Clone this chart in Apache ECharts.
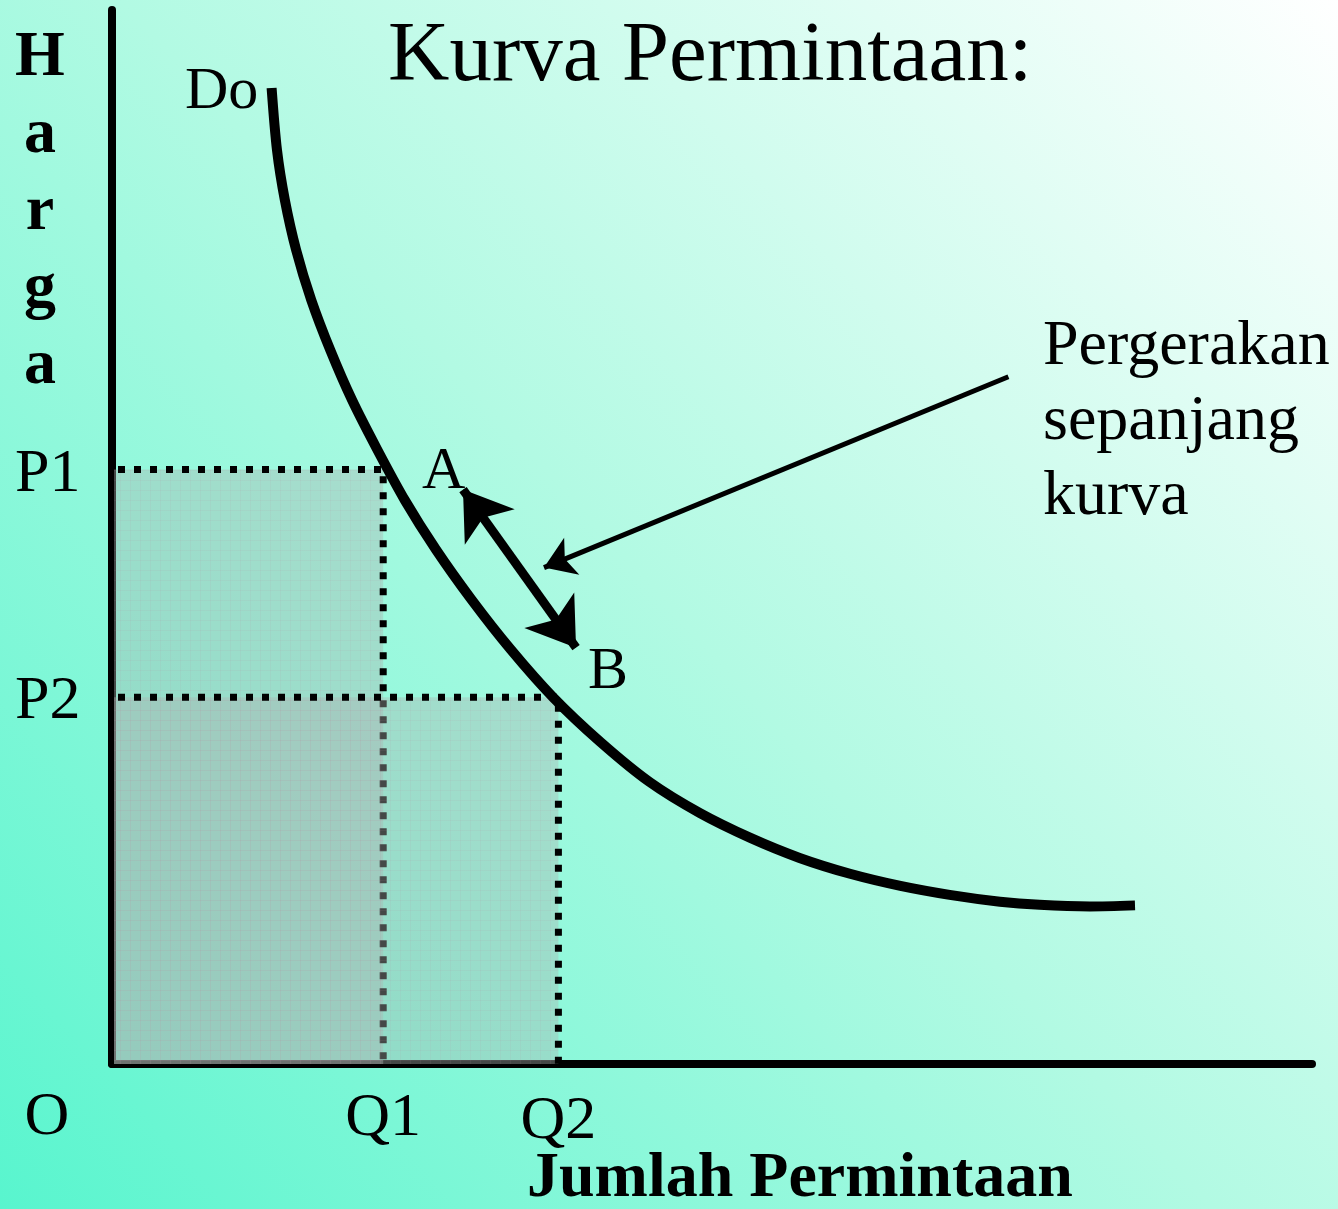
<!DOCTYPE html>
<html>
<head>
<meta charset="utf-8">
<script src="https://cdn.jsdelivr.net/npm/echarts@6/dist/echarts.min.js"></script>
<style>
html, body { margin: 0; padding: 0; }
#main { width: 1338px; height: 1209px; }
</style>
</head>
<body>
<div id="main"></div>
<script>
// demand curve Do (quantity, price)
var curveQty   = [13.3, 13.75, 14.4, 15.35, 16.6, 18.2, 20.0, 22.1, 24.4, 27.0, 30.0, 33.25, 36.75, 40.7, 44.8, 49.0, 53.2, 57.3, 61.5, 65.7, 69.8, 74.0, 77.3, 81.5, 85.25];
var curvePrice = [92.6, 86.7, 82.0, 77.2, 72.5, 67.7, 63.0, 58.3, 53.5, 48.8, 44.0, 39.3, 34.8, 30.55, 26.75, 23.8, 21.45, 19.55, 18.05, 16.9, 16.05, 15.4, 15.1, 14.95, 15.05];

// the two points on the curve
var qtyLevels   = [22.6, 37.2];   // Q1, Q2
var priceLevels = [56.4, 34.8];   // P1, P2
var qtyNames    = ['Q1', 'Q2'];
var priceNames  = ['P1', 'P2'];

// arrows: movement A <-> B and the pointer from the note
var moveArrow = [[29.25, 54.5], [38.67, 39.5]];
var noteArrow = [[74.7, 65.2], [36.0, 47.1]];

var serif = '"Liberation Serif", "Times New Roman", serif';

let main = document.getElementById('main');
let myChart = echarts.init(main);

// grey fill with a fine grid on it, like the shading in the slide
function makePattern() {
	var c = document.createElement('canvas');
	c.width = 10;
	c.height = 10;
	var ctx = c.getContext('2d');
	ctx.fillStyle = 'rgba(172,180,178,0.4)';
	ctx.fillRect(0, 0, 10, 10);
	ctx.fillStyle = 'rgba(190,150,170,0.1)';
	ctx.fillRect(0, 0, 10, 1);
	ctx.fillRect(0, 0, 1, 10);
	return { image: c, repeat: 'repeat' };
}
var shade = makePattern();

var curveData = curveQty.map(function (q, i) { return [q, curvePrice[i]]; });
var boxData = qtyLevels.map(function (q, i) { return [q, priceLevels[i]]; });

function renderBox(params, api) {
	var q = api.value(0), p = api.value(1);
	var o = api.coord([0, 0]);
	var c = api.coord([q, p]);
	return {
		type: 'group',
		children: [{
			type: 'rect',
			shape: { x: o[0] + 2, y: c[1], width: c[0] - o[0] - 2, height: o[1] - c[1] },
			style: { fill: shade }
		}, {
			type: 'polyline',
			shape: { points: [[o[0] + 6, c[1]], [c[0], c[1]], [c[0], o[1]]] },
			style: { stroke: '#000', lineWidth: 7, lineDash: [7, 9], fill: null }
		}]
	};
}

var option = {
	backgroundColor: new echarts.graphic.LinearGradient(0, 1, 1, 0, [
		{ offset: 0, color: '#58f5ce' },
		{ offset: 0.5, color: '#b2fae3' },
		{ offset: 1, color: '#ffffff' }
	]),
	animation: false,
	grid: { left: 112, right: 26, top: 10, bottom: 145 },
	xAxis: {
		type: 'value', min: 0, max: 100,
		axisLine: { lineStyle: { color: '#000', width: 8 } },
		axisTick: { show: false },
		axisLabel: { show: false },
		splitLine: { show: false }
	},
	yAxis: {
		type: 'value', min: 0, max: 100,
		axisLine: { show: true, lineStyle: { color: '#000', width: 8 } },
		axisTick: { show: false },
		axisLabel: { show: false },
		splitLine: { show: false }
	},
	series: [{
		name: 'box A',
		type: 'custom',
		z: 1,
		silent: true,
		renderItem: renderBox,
		data: [boxData[0]]
	}, {
		name: 'box B',
		type: 'custom',
		z: 2,
		silent: true,
		renderItem: renderBox,
		data: [boxData[1]]
	}, {
		name: 'Do',
		type: 'line',
		z: 5,
		smooth: 0.3,
		symbol: 'none',
		lineStyle: { color: '#000', width: 10, cap: 'butt' },
		data: curveData
	}, {
		name: 'arrows',
		type: 'lines',
		coordinateSystem: 'cartesian2d',
		z: 6,
		silent: true,
		data: [{
			coords: moveArrow,
			symbol: ['arrow', 'arrow'],
			symbolSize: 46,
			lineStyle: { width: 9 }
		}, {
			coords: noteArrow,
			symbol: ['none', 'arrow'],
			symbolSize: 30,
			lineStyle: { width: 5 }
		}],
		lineStyle: { color: '#000', opacity: 1 }
	}]
};

myChart.setOption(option);

// labels placed from the axis values
function px(q, p) { return myChart.convertToPixel({ gridIndex: 0 }, [q, p]); }
function txt(text, x, y, size, opts) {
	opts = opts || {};
	return {
		type: 'text',
		x: x, y: y,
		z: 10,
		silent: true,
		style: {
			text: text,
			fill: '#000',
			font: (opts.bold ? 'bold ' : '') + size + 'px ' + serif,
			align: opts.align || 'left',
			verticalAlign: opts.va || 'middle',
			lineHeight: opts.lh
		}
	};
}

var labels = [];
labels.push(txt('Kurva Permintaan:', 388, 58, 85));
labels.push(txt('Do', 185, 92, 60));
labels.push(txt('A', 422, 472, 60));
labels.push(txt('B', 588, 672, 60));
labels.push(txt('H\na\nr\ng\na', 40, 20, 64, { bold: true, align: 'center', va: 'top', lh: 77 }));
labels.push(txt('Pergerakan\nsepanjang\nkurva', 1043, 310, 64, { va: 'top', lh: 75 }));
priceNames.forEach(function (n, i) {
	var p = px(0, priceLevels[i]);
	labels.push(txt(n, 15, p[1] + 5, 62));
});
qtyNames.forEach(function (n, i) {
	var p = px(qtyLevels[i], 0);
	labels.push(txt(n, p[0], 1119 + i * 3, 62, { align: 'center' }));
});
labels.push(txt('O', 47, 1118, 62, { align: 'center' }));
labels.push(txt('Jumlah Permintaan', 527, 1179, 64, { bold: true }));

myChart.setOption({ graphic: labels });
</script>
</body>
</html>
